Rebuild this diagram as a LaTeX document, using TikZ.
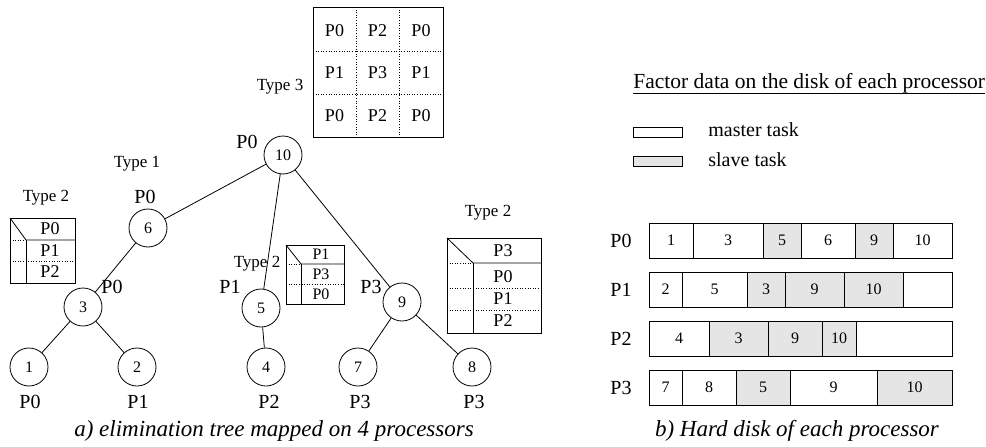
\documentclass[tikz,border=0pt]{standalone}
\usepackage{fontspec}
\setmainfont{Liberation Serif}
\begin{document}
\begin{tikzpicture}[x=1pt,y=-1pt, line width=0.8pt,
  every node/.style={font=\fontsize{20}{24}\selectfont, inner sep=0pt},
  tn/.style={circle, draw, minimum size=38pt, font=\fontsize{16}{19}\selectfont},
  typ/.style={font=\fontsize{17}{20}\selectfont},
  bx/.style={font=\fontsize{18}{21}\selectfont},
  bxs/.style={font=\fontsize{16}{19}\selectfont},
  dnum/.style={font=\fontsize{16}{19}\selectfont},
  dots/.style={dotted, line width=0.6pt},
  slv/.style={fill=black!10},
  capt/.style={font=\fontsize{23}{27}\selectfont\itshape}]
\useasboundingbox (0,0) rectangle (986,447);

% ---------------- tree ----------------
\node[tn] (n10) at (283,155) {10};
\node[tn] (n6) at (148,228) {6};
\node[tn] (n3) at (83,307) {3};
\node[tn] (n1) at (29,367) {1};
\node[tn] (n2) at (137,367) {2};
\node[tn] (n5) at (261,308) {5};
\node[tn] (n4) at (266,367) {4};
\node[tn] (n9) at (402,302) {9};
\node[tn] (n7) at (358,367) {7};
\node[tn] (n8) at (472,367) {8};
\draw (n10) -- (n6);
\draw (n10) -- (n5);
\draw (n10) -- (n9);
\draw (n6) -- (n3);
\draw (n3) -- (n1);
\draw (n3) -- (n2);
\draw (n5) -- (n4);
\draw (n9) -- (n7);
\draw (n9) -- (n8);

\node (l10) at (247,142) {P0};
\node (l6) at (145,197) {P0};
\node (l3) at (112,287) {P0};
\node (l5) at (230,287) {P1};
\node (l9) at (371,287) {P3};
\node (l1) at (30,402) {P0};
\node (l2) at (138,402) {P1};
\node (l4) at (269,402) {P2};
\node (l7) at (360,402) {P3};
\node (l8) at (474,402) {P3};

\node[typ] (ty1) at (137,164) {Type 1};
\node[typ] (ty2a) at (46,198) {Type 2};
\node[typ] (ty2b) at (257,264) {Type 2};
\node[typ] (ty2c) at (488,213) {Type 2};
\node[typ] (ty3) at (280,87) {Type 3};

% Type 3 grid
\draw (313,7) rectangle (443,137);
\draw[dots] (356,7) -- (356,137);
\draw[dots] (399,7) -- (399,137);
\draw[dots] (313,51) -- (443,51);
\draw[dots] (313,94) -- (443,94);
\foreach \c/\x in {1/334.5,2/377.5,3/421}{
  \foreach \r/\y/\t in {1/31/a,2/73/b,3/116/c}{
  }
}
\node[bx] (g11) at (334.5,31) {P0};
\node[bx] (g12) at (377.5,31) {P2};
\node[bx] (g13) at (421,31) {P0};
\node[bx] (g21) at (334.5,73) {P1};
\node[bx] (g22) at (377.5,73) {P3};
\node[bx] (g23) at (421,73) {P1};
\node[bx] (g31) at (334.5,116) {P0};
\node[bx] (g32) at (377.5,116) {P2};
\node[bx] (g33) at (421,116) {P0};

% left Type 2 box
\draw (10,218) rectangle (75,283);
\draw (10,218) -- (26,240) -- (75,240);
\draw (26,240) -- (26,283);
\draw[dots] (10,240) -- (26,240);
\draw[dots] (10,261) -- (75,261);
\node[bx] (a0) at (50,229) {P0};
\node[bx] (a1) at (50,251) {P1};
\node[bx] (a2) at (50,272) {P2};

% middle Type 2 box
\draw (286,245) rectangle (344,304);
\draw (286,245) -- (301,264) -- (344,264);
\draw (301,264) -- (301,304);
\draw[dots] (286,264) -- (301,264);
\draw[dots] (286,284) -- (344,284);
\node[bxs] (b0) at (321,254) {P1};
\node[bxs] (b1) at (321,274) {P3};
\node[bxs] (b2) at (321,294) {P0};

% right Type 2 box
\draw (447,238) rectangle (541,333);
\draw (447,238) -- (473,263) -- (541,263);
\draw (473,263) -- (473,333);
\draw[dots] (447,263) -- (473,263);
\draw[dots] (447,288) -- (541,288);
\draw[dots] (447,310) -- (541,310);
\node[bx] (c0) at (503,251) {P3};
\node[bx] (c1) at (503,277) {P0};
\node[bx] (c2) at (503,299) {P1};
\node[bx] (c3) at (503,321) {P2};

\node[capt] (capa) at (274,431) {a) elimination tree mapped on 4 processors};

% ---------------- disk ----------------
\node[anchor=base west, font=\fontsize{21.5}{25}\selectfont] (head) at (633,88) {Factor data on the disk of each processor};
\draw[line width=0.7pt] (633,93) -- (985,93);

\draw (633,127) rectangle (682,137);
\draw[slv] (633,156) rectangle (682,166);
\node[anchor=west] (mt) at (708,130) {master task};
\node[anchor=west] (st) at (708,160) {slave task};

\node (r0) at (621,240.5) {P0};
\node (r1) at (621,289.5) {P1};
\node (r2) at (621,338.5) {P2};
\node (r3) at (621,387.5) {P3};

\foreach \a/\b/\t/\s in {649/693/1/white,693/763/3/white,763/801/5/black!10,801/855/6/white,855/893/9/black!10,893/952/10/white}{
  \draw[fill=\s] (\a,223) rectangle (\b,258);
  \node[dnum] (p0-\a) at ({(\a+\b)/2},240.5) {\t};
}
\foreach \a/\b/\t/\s in {649/682/2/white,682/747/5/white,747/785/3/black!10,785/844/9/black!10,844/903/10/black!10,903/952//white}{
  \draw[fill=\s] (\a,272) rectangle (\b,307);
  \node[dnum] (p1-\a) at ({(\a+\b)/2},289.5) {\t};
}
\foreach \a/\b/\t/\s in {649/709/4/white,709/768/3/black!10,768/822/9/black!10,822/856/10/black!10,856/952//white}{
  \draw[fill=\s] (\a,321) rectangle (\b,356);
  \node[dnum] (p2-\a) at ({(\a+\b)/2},338.5) {\t};
}
\foreach \a/\b/\t/\s in {649/682/7/white,682/736/8/white,736/790/5/black!10,790/877/9/white,877/952/10/black!10}{
  \draw[fill=\s] (\a,370) rectangle (\b,405);
  \node[dnum] (p3-\a) at ({(\a+\b)/2},387.5) {\t};
}

\node[capt] (capb) at (797,431) {b) Hard disk of each processor};
\end{tikzpicture}
\end{document}
